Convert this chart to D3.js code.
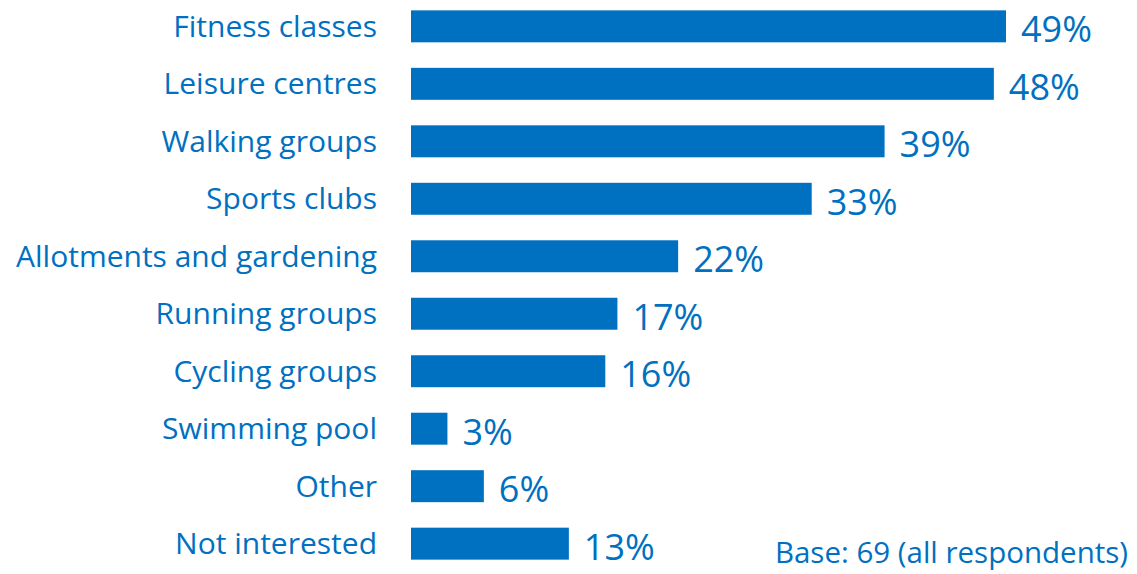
<!DOCTYPE html>
<html><head><meta charset="utf-8">
<script src="https://cdn.jsdelivr.net/npm/d3@7"></script>
<style>body{margin:0;background:#fff;} text{font-family:"Open Sans",sans-serif;}</style>
</head><body>
<svg id="chart" width="1137" height="574"></svg>
<script>
const categories = ["Fitness classes","Leisure centres","Walking groups","Sports clubs","Allotments and gardening","Running groups","Cycling groups","Swimming pool","Other","Not interested"];
const values = [49,48,39,33,22,17,16,3,6,13];
const baseNote = "Base: 69 (all respondents)";
const color = "#0070C0";

const svg = d3.select("#chart");
const x = d3.scaleLinear().domain([0, 49]).range([411, 1006]);
const y = d3.scaleBand().domain(categories).range([-2.4, 572.4]).paddingInner(0.444).paddingOuter(0.222);

svg.selectAll("rect.bar").data(categories).join("rect")
  .attr("class","bar")
  .attr("x", x(0))
  .attr("y", d => y(d))
  .attr("width", (d,i) => x(values[i]) - x(0))
  .attr("height", y.bandwidth())
  .attr("fill", color);

svg.selectAll("text.cat").data(categories).join("text")
  .attr("class","cat")
  .attr("x", 377)
  .attr("y", d => y(d) + y.bandwidth()/2 + 10.5)
  .attr("text-anchor","end")
  .attr("font-size", 30)
  .attr("fill", color)
  .text(d => d);

svg.selectAll("text.val").data(categories).join("text")
  .attr("class","val")
  .attr("x", (d,i) => x(values[i]) + 15)
  .attr("y", d => y(d) + y.bandwidth()/2 + 16)
  .attr("font-size", 36)
  .attr("fill", color)
  .text((d,i) => values[i] + "%");

svg.append("text")
  .attr("x", 1128).attr("y", 563)
  .attr("text-anchor","end")
  .attr("font-size", 29.5)
  .attr("fill", color)
  .text(baseNote);
</script>
</body></html>
